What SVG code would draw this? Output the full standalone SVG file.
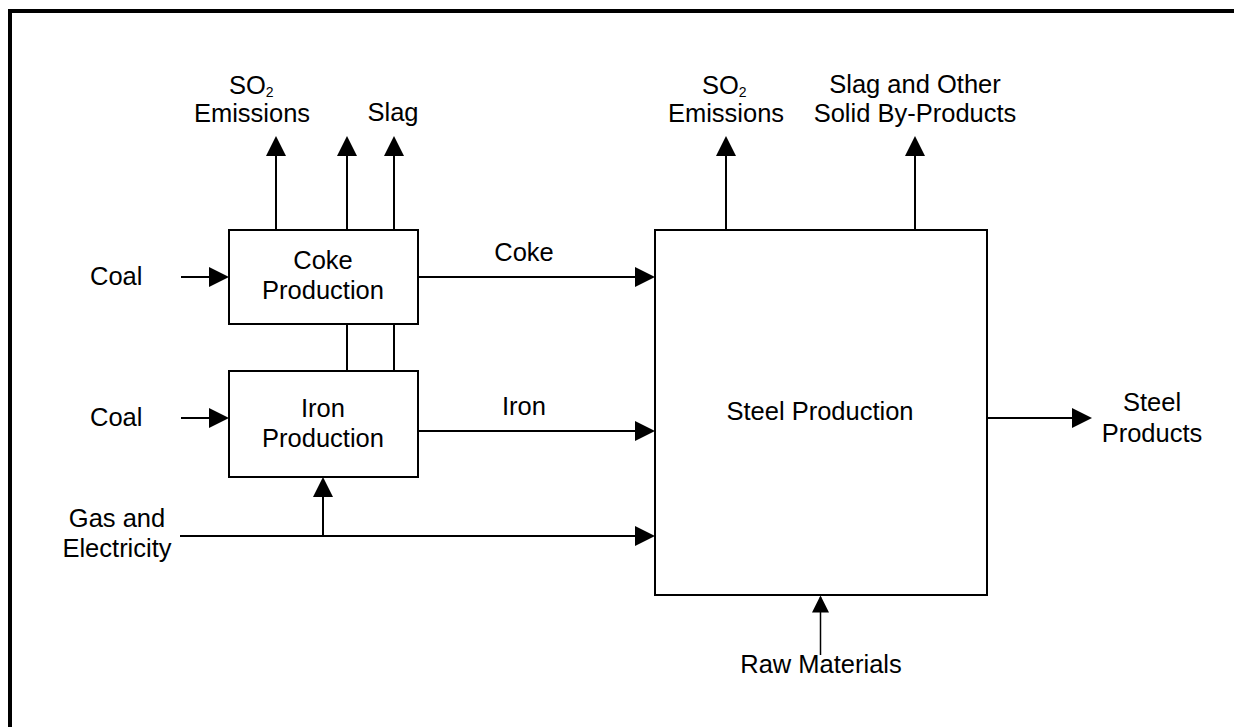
<svg xmlns="http://www.w3.org/2000/svg" width="1234" height="727" viewBox="0 0 1234 727">
<style>
text{font-family:"Liberation Sans",Arial,sans-serif;font-size:25.5px;fill:#000}
.c{text-anchor:middle}
.box{fill:#fff;stroke:#000;stroke-width:2}
.ln{fill:none;stroke:#000;stroke-width:2}
.thin{fill:none;stroke:#000;stroke-width:1.5}
.sub{font-size:14px}
</style>
<defs>
<marker id="ah" markerUnits="userSpaceOnUse" markerWidth="20" markerHeight="20" refX="18" refY="10" orient="auto" viewBox="0 0 20 20">
<path d="M0,0 L20,10 L0,20 z" fill="#000"/>
</marker>
<marker id="ahs" markerUnits="userSpaceOnUse" markerWidth="17" markerHeight="17" refX="15.5" refY="8.5" orient="auto" viewBox="0 0 17 17">
<path d="M0,0 L17,8.5 L0,17 z" fill="#000"/>
</marker>
</defs>
<rect width="1234" height="727" fill="#fff"/>
<path d="M10,727 V11 H1234" fill="none" stroke="#000" stroke-width="4"/>

<g id="connectors">
<line class="ln" x1="276" y1="230" x2="276" y2="138" marker-end="url(#ah)"/>
<line class="ln" x1="347" y1="230" x2="347" y2="138" marker-end="url(#ah)"/>
<line class="ln" x1="394" y1="230" x2="394" y2="138" marker-end="url(#ah)"/>
<line class="ln" x1="347" y1="324" x2="347" y2="371"/>
<line class="ln" x1="394" y1="324" x2="394" y2="371"/>
<line class="ln" x1="181" y1="277" x2="227" y2="277" marker-end="url(#ah)"/>
<line class="ln" x1="181" y1="418" x2="227" y2="418" marker-end="url(#ah)"/>
<line class="ln" x1="418" y1="277" x2="653" y2="277" marker-end="url(#ah)"/>
<line class="ln" x1="418" y1="431" x2="653" y2="431" marker-end="url(#ah)"/>
<line class="ln" x1="180" y1="536" x2="653" y2="536" marker-end="url(#ah)"/>
<line class="ln" x1="323" y1="536" x2="323" y2="479" marker-end="url(#ah)"/>
<line class="ln" x1="726" y1="230" x2="726" y2="138" marker-end="url(#ah)"/>
<line class="ln" x1="915" y1="230" x2="915" y2="138" marker-end="url(#ah)"/>
<line class="ln" x1="987" y1="418" x2="1090" y2="418" marker-end="url(#ah)"/>
<line class="thin" x1="820.5" y1="655" x2="820.5" y2="597" marker-end="url(#ahs)"/>
</g>

<g id="coke-production">
<rect class="box" x="229" y="230" width="189" height="94"/>
<text class="c" x="323" y="269">Coke</text>
<text class="c" x="323" y="299">Production</text>
</g>
<g id="iron-production">
<rect class="box" x="229" y="371" width="189" height="106"/>
<text class="c" x="323" y="417">Iron</text>
<text class="c" x="323" y="447">Production</text>
</g>
<g id="steel-production">
<rect class="box" x="655" y="230" width="332" height="365"/>
<text class="c" x="820" y="420">Steel Production</text>
</g>

<g id="labels">
<text x="229" y="94">SO<tspan class="sub" dy="3">2</tspan></text>
<text class="c" x="252" y="122">Emissions</text>
<text class="c" x="393" y="121">Slag</text>
<text x="702" y="94">SO<tspan class="sub" dy="3">2</tspan></text>
<text class="c" x="726" y="122">Emissions</text>
<text class="c" x="915" y="93">Slag and Other</text>
<text class="c" x="915" y="122">Solid By-Products</text>
<text x="90" y="285">Coal</text>
<text x="90" y="426">Coal</text>
<text class="c" x="524" y="261">Coke</text>
<text class="c" x="524" y="415">Iron</text>
<text class="c" x="117" y="527">Gas and</text>
<text class="c" x="117" y="557">Electricity</text>
<text class="c" x="1152" y="411">Steel</text>
<text class="c" x="1152" y="442">Products</text>
<text class="c" x="821" y="673">Raw Materials</text>
</g>
</svg>
